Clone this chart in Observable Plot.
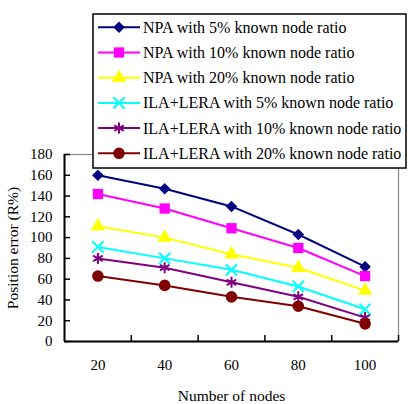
<!DOCTYPE html>
<html>
<head>
<meta charset="utf-8">
<script src="https://cdn.jsdelivr.net/npm/d3@7"></script>
<script src="https://cdn.jsdelivr.net/npm/@observablehq/plot@0.6"></script>
<style>
  html, body { margin: 0; padding: 0; background: #fff; }
  #chart { position: relative; width: 408px; height: 404px; }
  #chart svg, #chart svg text { font-family: "Liberation Serif", "Times New Roman", serif !important; }
</style>
</head>
<body>
<div id="chart"></div>
<script>
// Number of nodes on the x axis
const nodes = [20, 40, 60, 80, 100];

// Position error (R%) for each method / known-node ratio
const npa5   = [160, 147, 130, 103, 72];
const npa10  = [142, 128, 109, 90, 63];
const npa20  = [111, 100, 84, 71, 49];
const ila5   = [91, 80, 69, 53, 31];
const ila10  = [80, 71, 57, 43, 23];
const ila20  = [63, 54, 43, 34, 17];

const seriesNames = [
  "NPA with 5% known node ratio",
  "NPA with 10% known node ratio",
  "NPA with 20% known node ratio",
  "ILA+LERA with 5% known node ratio",
  "ILA+LERA with 10% known node ratio",
  "ILA+LERA with 20% known node ratio"
];
const seriesValues = [npa5, npa10, npa20, ila5, ila10, ila20];
const seriesColors = ["#000080", "#ff00ff", "#ffff00", "#00ffff", "#800080", "#800000"];
const seriesSymbols = ["diamond2", "square", "triangle", "times", "asterisk", "circle"];
const symbolRadius = [5.2, 5.8, 5.4, 5.2, 5.2, 5.8];
const filled = [true, true, true, false, false, true];

const yTicks = d3.range(0, 181, 20);
const xBoundaries = [30, 50, 70, 90];

const rows = seriesNames.flatMap((name, i) =>
  nodes.map((n, j) => ({ series: name, idx: i, nodes: n, error: seriesValues[i][j] }))
);

const W = 408, H = 404;
const mL = 64, mR = 10, mT = 154, mB = 63;

const dotMarks = seriesNames.map((name, i) =>
  Plot.dot(rows.filter(d => d.idx === i), {
    x: "nodes", y: "error",
    symbol: () => seriesSymbols[i],
    r: symbolRadius[i],
    fill: filled[i] ? seriesColors[i] : "none",
    stroke: seriesColors[i],
    strokeWidth: filled[i] ? 0 : 2
  })
);

const chart = Plot.plot({
  width: W, height: H,
  marginLeft: mL, marginRight: mR, marginTop: mT, marginBottom: mB,
  style: { fontFamily: "'Liberation Serif', 'Times New Roman', serif", fontSize: "15px", color: "#000", background: "#fff" },
  x: { type: "linear", domain: [10, 110] },
  y: { domain: [0, 180] },
  symbol: { type: "identity" },
  marks: [
    Plot.frame({ stroke: "#888", strokeWidth: 1.2 }),
    Plot.axisY(yTicks, { tickSize: 0, tickPadding: 12, fontSize: 15, label: null }),
    Plot.axisX(nodes, { tickSize: 0, tickPadding: 17.5, fontSize: 15, label: null }),
    Plot.axisY({ ticks: [], label: "Position error (R%)", labelAnchor: "center", labelArrow: "none", labelOffset: 58, fontSize: 15.5 }),
    Plot.axisX({ ticks: [], label: "Number of nodes", labelAnchor: "center", labelArrow: "none", labelOffset: 59, fontSize: 15.5 }),
    // inward tick marks
    Plot.tickY(yTicks, { y: d => d, stroke: "#000", strokeWidth: 1.5, insetRight: W - mL - mR - 6 }),
    Plot.tickX(xBoundaries.concat([110]), { x: d => d, stroke: "#000", strokeWidth: 1.5, insetTop: H - mT - mB - 6 }),
    Plot.ruleX([10], { stroke: "#000", strokeWidth: 2 }),
    Plot.ruleY([0], { stroke: "#000", strokeWidth: 2 }),
    Plot.line(rows, { x: "nodes", y: "error", z: "series", stroke: d => seriesColors[d.idx], strokeWidth: 2 }),
    ...dotMarks
  ]
});

document.getElementById("chart").appendChild(chart);

// Legend box drawn over the upper part of the chart
const svg = d3.select(chart);
const lg = svg.append("g").attr("class", "legend").attr("text-anchor", "start");
lg.append("rect")
  .attr("x", 93).attr("y", 14).attr("width", 313).attr("height", 154)
  .attr("fill", "#fff").attr("stroke", "#000").attr("stroke-width", 1.5);

const symbolTypes = {
  diamond2: d3.symbolDiamond2, square: d3.symbolSquare, triangle: d3.symbolTriangle,
  times: d3.symbolTimes, asterisk: d3.symbolAsterisk, circle: d3.symbolCircle
};

seriesNames.forEach((name, i) => {
  const y = 27.3 + i * 25.2;
  const g = lg.append("g");
  g.append("line")
    .attr("x1", 98).attr("x2", 140).attr("y1", y).attr("y2", y)
    .attr("stroke", seriesColors[i]).attr("stroke-width", 2);
  g.append("path")
    .attr("transform", `translate(119,${y})`)
    .attr("d", d3.symbol(symbolTypes[seriesSymbols[i]], Math.PI * symbolRadius[i] ** 2)())
    .attr("fill", filled[i] ? seriesColors[i] : "none")
    .attr("stroke", filled[i] ? "none" : seriesColors[i])
    .attr("stroke-width", 2);
  g.append("text")
    .attr("x", 143).attr("y", y + 5.5)
    .attr("text-anchor", "start")
    .attr("font-size", 16).attr("fill", "#000")
    .text(name);
});
</script>
</body>
</html>
